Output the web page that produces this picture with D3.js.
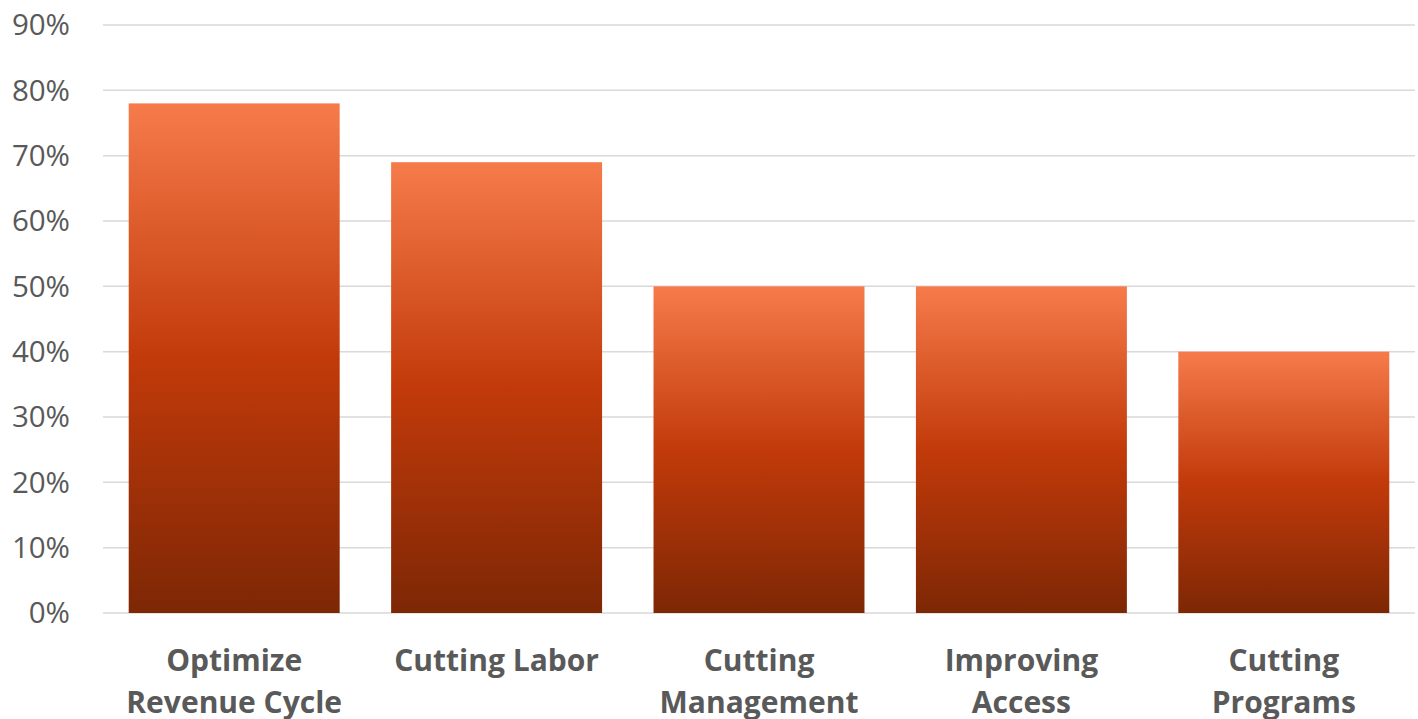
<!DOCTYPE html>
<html><head><meta charset="utf-8">
<script src="https://cdn.jsdelivr.net/npm/d3@7"></script>
<style>body{margin:0;background:#fff;}svg{display:block;}</style>
</head><body><svg id="c" width="1418" height="719"></svg>
<script>
const categories = [["Optimize","Revenue Cycle"],["Cutting Labor"],["Cutting","Management"],["Improving","Access"],["Cutting","Programs"]];
const values = [0.78, 0.69, 0.50, 0.50, 0.40];
const tickValues = [0,0.1,0.2,0.3,0.4,0.5,0.6,0.7,0.8,0.9];

(function(){
const svg = d3.select("#c");
const mLeft = 103, mRight = 1415, mTop = 25, mBottom = 613;
const x = d3.scaleBand().domain(d3.range(categories.length)).range([mLeft,mRight]).paddingInner(0.196).paddingOuter(0.098);
const y = d3.scaleLinear().domain([0,0.9]).range([mBottom,mTop]);

const defs = svg.append("defs");
const g = defs.append("linearGradient").attr("id","bg").attr("x1",0).attr("x2",0).attr("y1",0).attr("y2",1);
g.append("stop").attr("offset","0%").attr("stop-color","#F67B4B");
g.append("stop").attr("offset","50%").attr("stop-color","#C23A0A");
g.append("stop").attr("offset","100%").attr("stop-color","#7D2705");

const font = "'Segoe UI','Open Sans','Noto Sans',sans-serif";

svg.append("g").selectAll("line").data(tickValues).join("line")
  .attr("x1",mLeft).attr("x2",mRight).attr("y1",d=>y(d)).attr("y2",d=>y(d))
  .attr("stroke","#D9D9D9").attr("stroke-width",1.5);

svg.append("g").selectAll("text").data(tickValues).join("text")
  .attr("x",70).attr("y",d=>y(d)).attr("dy","0.35em").attr("text-anchor","end")
  .attr("font-family",font).attr("font-size",29.5).attr("fill","#595959")
  .text(d=>d3.format(".0%")(d));

svg.append("g").selectAll("rect").data(values).join("rect")
  .attr("x",(d,i)=>x(i)).attr("width",x.bandwidth())
  .attr("y",d=>y(d)).attr("height",d=>y(0)-y(d))
  .attr("fill","url(#bg)");

const lab = svg.append("g").selectAll("text").data(categories).join("text")
  .attr("x",(d,i)=>x(i)+x.bandwidth()/2).attr("y",671).attr("text-anchor","middle")
  .attr("font-family",font).attr("font-size",30).attr("font-weight","bold").attr("fill","#595959");
lab.selectAll("tspan").data(d=>d).join("tspan")
  .attr("x",function(){return this.parentNode.getAttribute("x");})
  .attr("dy",(d,i)=>i===0?0:42).text(d=>d);
})();
</script></body></html>
